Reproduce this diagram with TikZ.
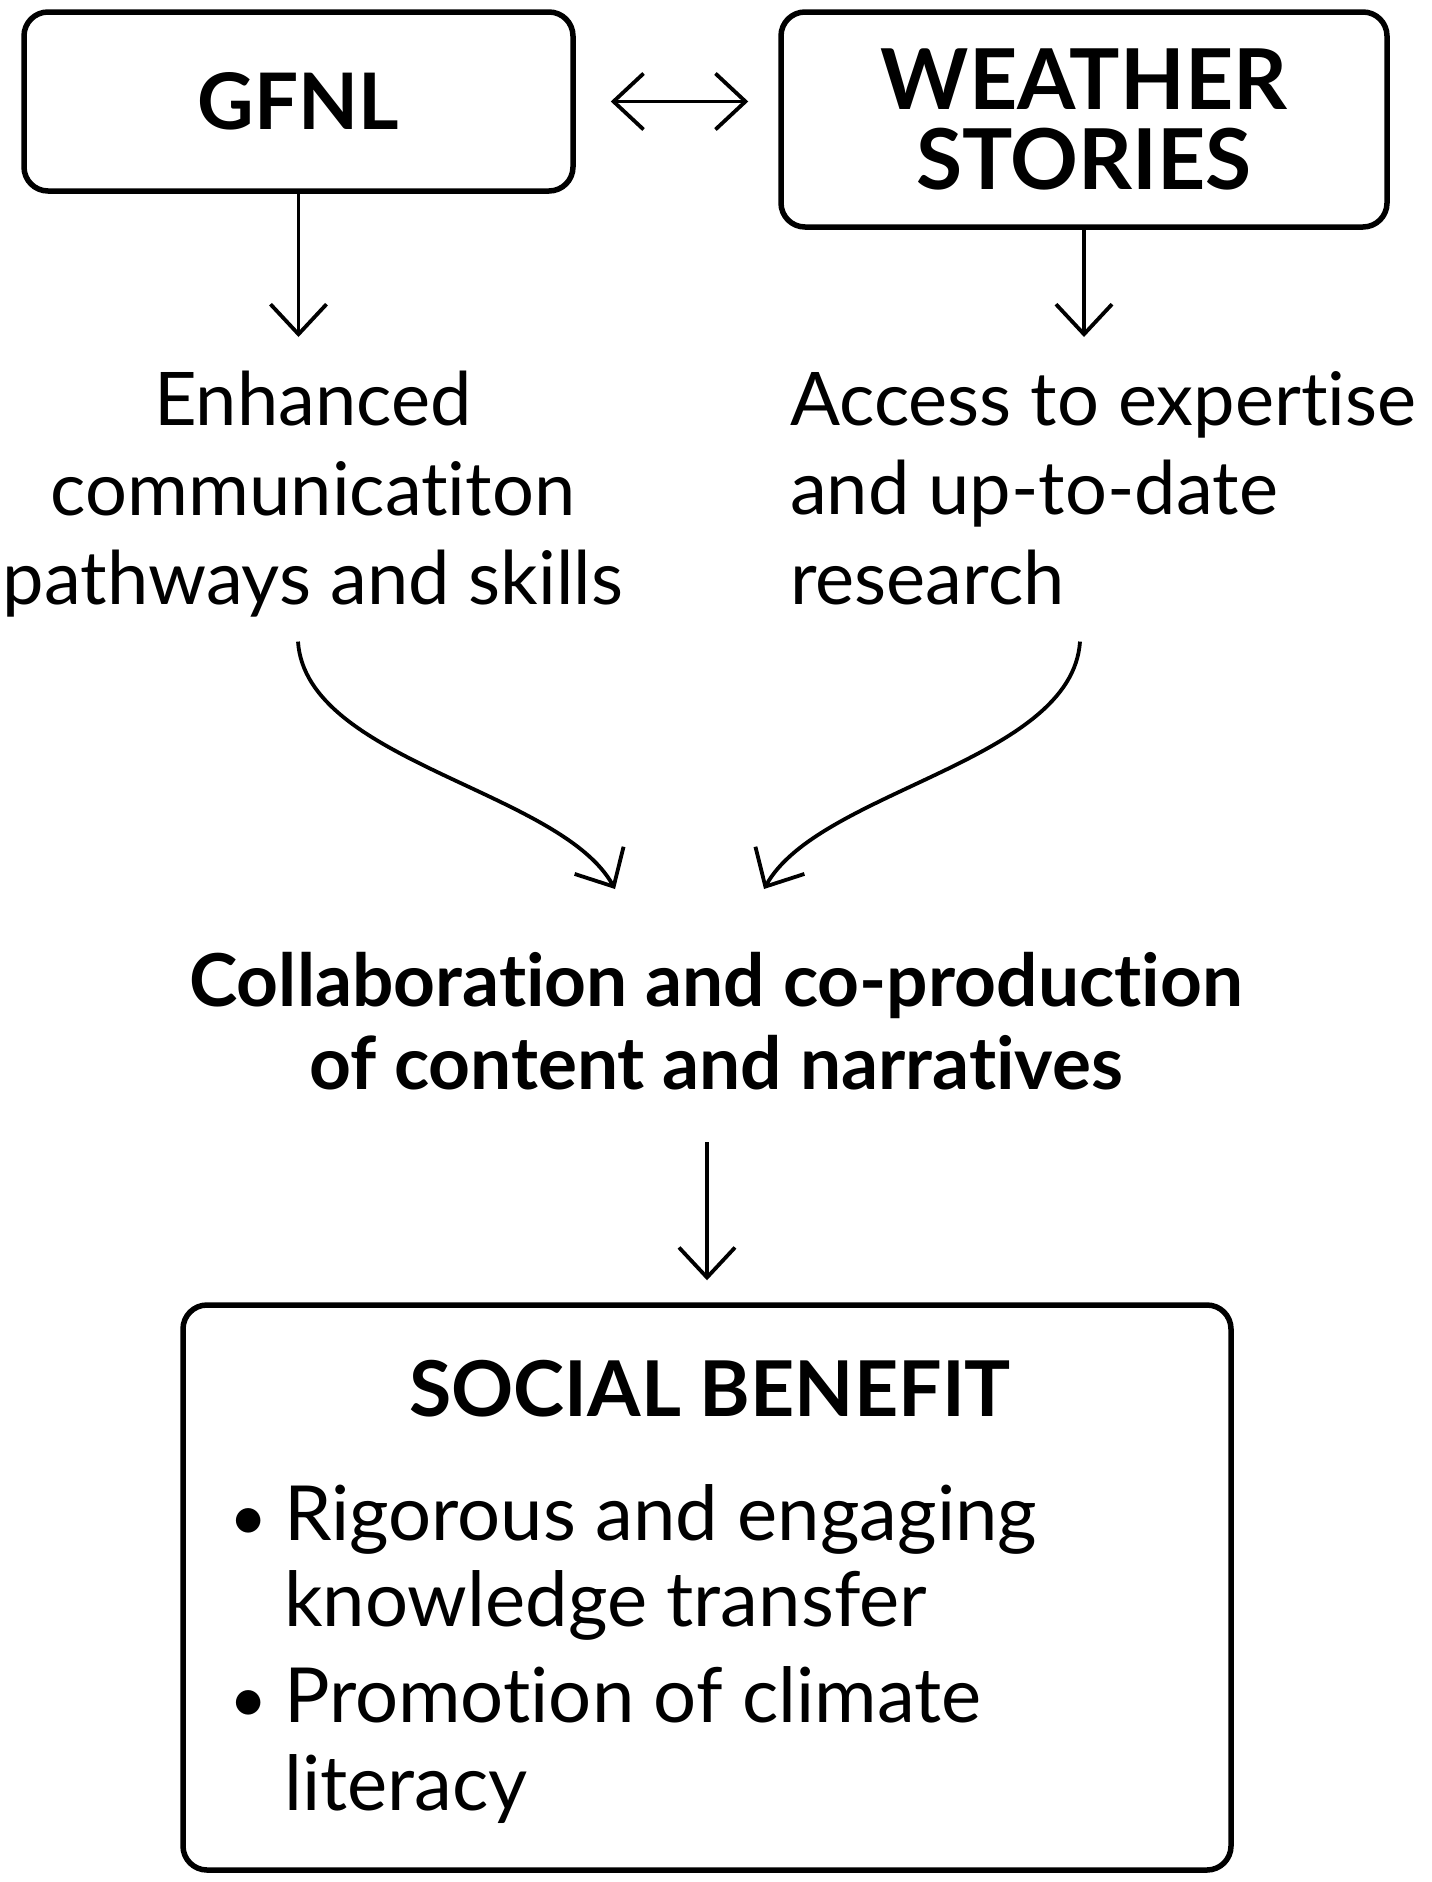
\documentclass[tikz,border=0pt]{standalone}
\usepackage{fontspec}
\setmainfont{Lato}[Ligatures={NoCommon,NoRare}]
\usetikzlibrary{arrows.meta}

\tikzset{
  box/.style={draw, line width=5.5pt, rounded corners=24pt, align=center, inner sep=0pt},
  flow/.style={line width=3.8pt, -{Straight Barb[length=30pt, width=56pt]}},
  both/.style={line width=3.8pt, {Straight Barb[length=30pt, width=56pt]}-{Straight Barb[length=30pt, width=56pt]}},
  txt/.style={inner sep=0pt},
}
\newcommand{\itembullet}{\llap{\fontsize{66}{66}\selectfont\textbullet\hspace{16pt}}}

\begin{document}
\begin{tikzpicture}[x=1pt,y=-1pt]
	%set diagram size 1432 x 1882
	\useasboundingbox (0,0) rectangle (1432,1882);

	%Shape: Rectangle [GFNL]
	\node (gfnl) [box, minimum width=549pt, minimum height=179pt, font=\bfseries\fontsize{78}{80}\selectfont] at (298.5,101.5) {GFNL};
	%Shape: Rectangle [Weather Stories]
	\node (ws) [box, minimum width=606pt, minimum height=215pt, font=\bfseries\fontsize{84}{80}\selectfont] at (1084,119.5) {WEATHER\\STORIES};
	%Shape: Rectangle [Social Benefit]
	\node (sb) [box, minimum width=1048pt, minimum height=565pt] at (707,1587.5) {};

	% Text Node
	\node (enh) [txt, anchor=north, align=center, font=\fontsize{74}{89.5}\selectfont] at (313,371) {Enhanced\\communicatiton\\pathways and skills};
	% Text Node
	\node (acc) [txt, anchor=north west, align=left, font=\fontsize{74}{89.5}\selectfont] at (790,371) {Access to expertise\\and up-to-date\\research};
	% Text Node
	\node (collab) [txt, anchor=north, align=center, font=\bfseries\fontsize{73}{83}\selectfont] at (716,952) {Collaboration and co-production\\of content and narratives};
	% Text Node
	\node (sbt) [txt, anchor=base, font=\bfseries\fontsize{77}{80}\selectfont] at (710,1416) {SOCIAL BENEFIT};
	% Text Node
	\node (it1) [txt, anchor=north west, align=left, font=\fontsize{76}{86}\selectfont] at (284,1484) {\itembullet Rigorous and engaging\\knowledge transfer};
	% Text Node
	\node (it2) [txt, anchor=north west, align=left, font=\fontsize{76}{88}\selectfont] at (284,1666) {\itembullet Promotion of climate\\literacy};

	%Straight Lines
	\draw [both, shorten <=35pt, shorten >=30pt] (gfnl.east) -- (gfnl.east -| ws.west);
	%Straight Lines
	\draw [flow, shorten >=34pt] (gfnl.south) -- (gfnl.south |- enh.north);
	%Straight Lines
	\draw [flow, shorten >=34pt] (ws.south) -- (ws.south |- acc.north);
	%Curve Lines
	\draw [flow] ([xshift=-15pt,yshift=-24pt]enh.south) .. controls +(8,120) and +(-55,-99) .. ([xshift=-101pt,yshift=63pt]collab.north);
	%Curve Lines
	\draw [flow] ([xshift=1080pt-313pt,yshift=-24pt]enh.south) .. controls +(-8,120) and +(55,-99) .. ([xshift=48pt,yshift=63pt]collab.north);
	%Straight Lines
	\draw [flow, shorten <=52pt, shorten >=22pt] (sb.north |- collab.south) -- (sb.north);

\end{tikzpicture}
\end{document}
